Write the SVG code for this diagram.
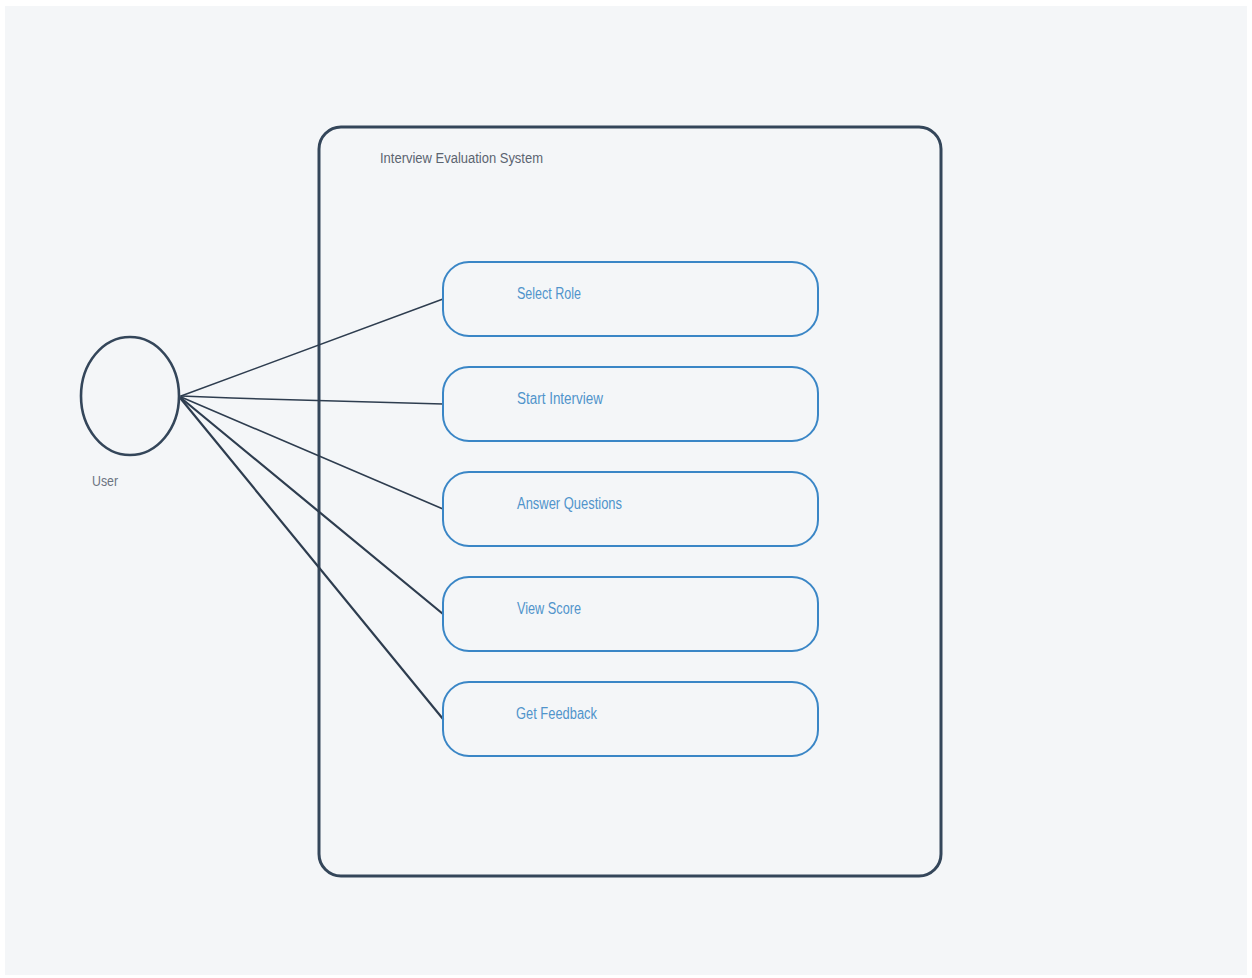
<svg xmlns="http://www.w3.org/2000/svg" width="1252" height="978" viewBox="0 0 1252 978">
  <style>
    .page { fill: #f4f6f8; }
    .system { fill: none; stroke: #34465a; stroke-width: 3; }
    .title { font-family: "Liberation Sans", Arial, sans-serif; font-size: 15.5px; fill: #5b6470; }
    .actor { fill: none; stroke: #34465a; stroke-width: 2.6; }
    .actor-label { font-family: "Liberation Sans", Arial, sans-serif; font-size: 15.5px; fill: #6b7380; }
    .usecase { fill: none; stroke: #3a86c6; stroke-width: 2; }
    .uc-label { font-family: "Liberation Sans", Arial, sans-serif; font-size: 16px; fill: #5094cb; }
    .assoc { stroke: #2e3d4f; fill: none; stroke-linecap: round; }
  </style>

  <rect class="page" x="5" y="6" width="1242" height="969"/>

  <g id="system-boundary">
    <rect class="system" x="319" y="127" width="622" height="749" rx="22" ry="22"/>
    <text class="title" x="380" y="163" textLength="163" lengthAdjust="spacingAndGlyphs">Interview Evaluation System</text>
  </g>

  <g id="connectors">
    <line class="assoc" x1="181" y1="396" x2="443" y2="299" stroke-width="1.5"/>
    <polyline class="assoc" points="181,396 232,398 443,404" stroke-width="1.5"/>
    <line class="assoc" x1="181" y1="397" x2="443" y2="509" stroke-width="1.6"/>
    <line class="assoc" x1="181" y1="398" x2="443" y2="614" stroke-width="2.2"/>
    <line class="assoc" x1="181" y1="399" x2="443" y2="719" stroke-width="2.2"/>
  </g>

  <g id="actor-user">
    <ellipse class="actor" cx="130" cy="396" rx="49" ry="59"/>
    <text class="actor-label" x="92" y="486" textLength="26" lengthAdjust="spacingAndGlyphs">User</text>
  </g>

  <g id="uc-select-role">
    <rect class="usecase" x="443" y="262" width="375" height="74" rx="26" ry="26"/>
    <text class="uc-label" x="517" y="299" textLength="64" lengthAdjust="spacingAndGlyphs">Select Role</text>
  </g>

  <g id="uc-start-interview">
    <rect class="usecase" x="443" y="367" width="375" height="74" rx="26" ry="26"/>
    <text class="uc-label" x="517" y="404" textLength="86" lengthAdjust="spacingAndGlyphs">Start Interview</text>
  </g>

  <g id="uc-answer-questions">
    <rect class="usecase" x="443" y="472" width="375" height="74" rx="26" ry="26"/>
    <text class="uc-label" x="517" y="509" textLength="105" lengthAdjust="spacingAndGlyphs">Answer Questions</text>
  </g>

  <g id="uc-view-score">
    <rect class="usecase" x="443" y="577" width="375" height="74" rx="26" ry="26"/>
    <text class="uc-label" x="517" y="614" textLength="64" lengthAdjust="spacingAndGlyphs">View Score</text>
  </g>

  <g id="uc-get-feedback">
    <rect class="usecase" x="443" y="682" width="375" height="74" rx="26" ry="26"/>
    <text class="uc-label" x="516" y="719" textLength="81" lengthAdjust="spacingAndGlyphs">Get Feedback</text>
  </g>
</svg>
